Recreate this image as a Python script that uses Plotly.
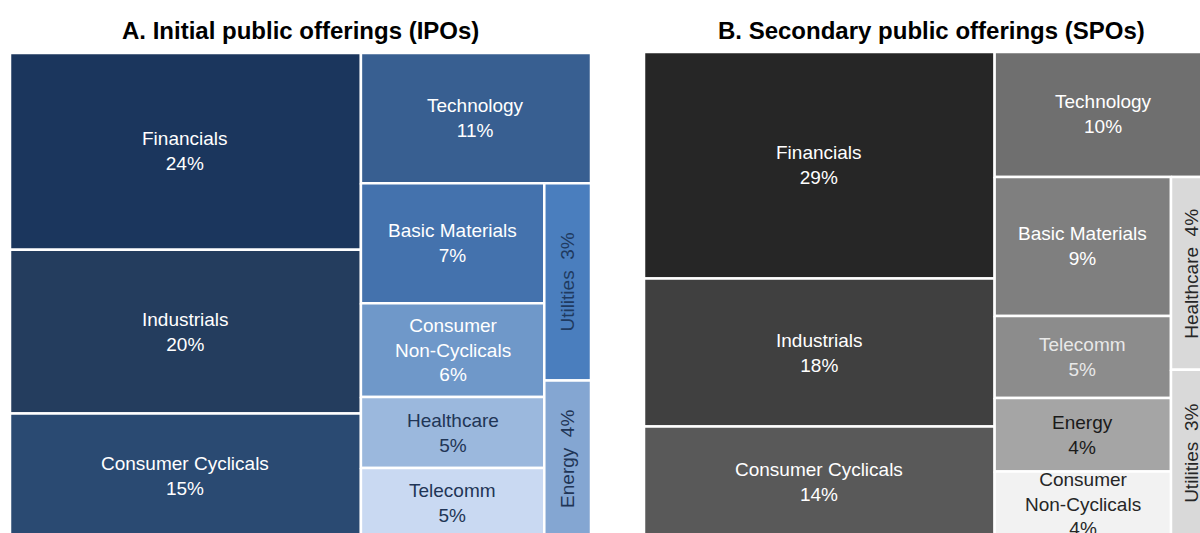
import plotly.graph_objects as go

# ---------------- data ----------------
ipo_sectors = ["Financials", "Industrials", "Consumer Cyclicals", "Technology",
               "Basic Materials", "Consumer<br>Non-Cyclicals", "Healthcare",
               "Telecomm", "Utilities", "Energy"]
ipo_pct = [24, 20, 15, 11, 7, 6, 5, 5, 3, 4]                 # shown labels
ipo_size = [24.5, 20.4, 15.5, 10.64, 7.80, 6.10, 4.63, 4.55, 3.27, 2.61]

spo_sectors = ["Financials", "Industrials", "Consumer Cyclicals", "Technology",
               "Basic Materials", "Telecomm", "Energy", "Consumer<br>Non-Cyclicals",
               "Healthcare", "Utilities"]
spo_pct = [29, 18, 14, 10, 9, 5, 4, 4, 4, 3]
spo_size = [28.83, 18.84, 14.06, 9.86, 8.90, 5.25, 4.71, 4.19, 2.87, 2.49]

# ---------------- styles ----------------
ipo_fill = ["#1b365d", "#243d5e", "#2a4a72", "#385f91", "#4472ad",
            "#6f98c9", "#9bb8dd", "#c9d9f2", "#4a7ebe", "#84a6d2"]
ipo_txt = ["#ffffff", "#ffffff", "#ffffff", "#ffffff", "#ffffff",
           "#ffffff", "#1f3556", "#1f3556", "#1f3a60", "#1f3556"]
ipo_rot = [False] * 8 + [True, True]

spo_fill = ["#262626", "#404040", "#595959", "#6f6f6f", "#7f7f7f",
            "#8c8c8c", "#a5a5a5", "#f2f2f2", "#d9d9d9", "#d9d9d9"]
spo_txt = ["#ffffff", "#ffffff", "#ffffff", "#ffffff", "#ffffff",
           "#e8e8e8", "#1a1a1a", "#262626", "#262626", "#262626"]
spo_rot = [False] * 8 + [True, True]

# nested grouping (slice-and-dice): depth even -> split along x, odd -> along y
structure = [[0, 1, 2], [3, [[4, 5, 6, 7], [8, 9]]]]

FONT = "Liberation Sans, Arial, sans-serif"
LABEL_SIZE = 19


def node_sum(node, sizes):
    if isinstance(node, int):
        return sizes[node]
    return sum(node_sum(c, sizes) for c in node)


def slice_dice(node, sizes, x0, y0, x1, y1, depth, out):
    if isinstance(node, int):
        out[node] = (x0, y0, x1, y1)
        return
    total = node_sum(node, sizes)
    pos = x0 if depth % 2 == 0 else y0
    for c in node:
        frac = node_sum(c, sizes) / total
        if depth % 2 == 0:
            w = (x1 - x0) * frac
            slice_dice(c, sizes, pos, y0, pos + w, y1, depth + 1, out)
            pos += w
        else:
            h = (y1 - y0) * frac
            slice_dice(c, sizes, x0, pos, x1, pos + h, depth + 1, out)
            pos += h


fig = go.Figure()
annotations = []


def add_panel(sectors, pct, sizes, fills, txts, rot, xa, ya):
    rects = {}
    slice_dice(structure, sizes, 0.0, 0.0, 1.0, 1.0, 0, rects)
    for i, name in enumerate(sectors):
        x0, y0, x1, y1 = rects[i]
        plain = name.replace("<br>", " ")
        fig.add_trace(go.Scatter(
            x=[x0, x1, x1, x0, x0], y=[y0, y0, y1, y1, y0],
            mode="lines", fill="toself", fillcolor=fills[i],
            line=dict(color="white", width=2.5),
            hoverinfo="text", hovertext=f"{plain}: {pct[i]}%",
            showlegend=False, xaxis=xa, yaxis=ya))
        cx, cy = (x0 + x1) / 2, (y0 + y1) / 2
        if rot[i]:
            text = f"{name}&nbsp;&nbsp;{pct[i]}%"
            angle = -90
        else:
            text = f"{name}<br>{pct[i]}%"
            angle = 0
        annotations.append(dict(
            x=cx, y=cy, xref=xa, yref=ya, text=text, textangle=angle,
            showarrow=False, xanchor="center", yanchor="middle",
            font=dict(family=FONT, size=LABEL_SIZE, color=txts[i])))


add_panel(ipo_sectors, ipo_pct, ipo_size, ipo_fill, ipo_txt, ipo_rot, "x", "y")
add_panel(spo_sectors, spo_pct, spo_size, spo_fill, spo_txt, spo_rot, "x2", "y2")

W, H = 1200, 533
# panel A: tile area 10..591 px wide, 53..538 px tall (cropped at bottom)
# panel B: tile area 644..1212 px wide, 52..537 px tall (cropped at right/bottom)
axA = dict(visible=False, fixedrange=True)
layout_axes = dict(
    xaxis=dict(domain=[10 / W, 591 / W], range=[0, 1], **axA),
    yaxis=dict(domain=[0, 1 - 53 / H], range=[(H - 53) / 485, 0], **axA),
    xaxis2=dict(domain=[644 / W, 1], range=[0, (W - 644) / 568], anchor="y2", **axA),
    yaxis2=dict(domain=[0, 1 - 52 / H], range=[(H - 52) / 485, 0], anchor="x2", **axA),
)

title_font = dict(family="Liberation Sans, Arial, sans-serif", size=24, color="#000000")
annotations.append(dict(x=300.5 / W, y=1 - 30 / H, xref="paper", yref="paper",
                        text="<b>A. Initial public offerings (IPOs)</b>", showarrow=False,
                        xanchor="center", yanchor="middle", font=title_font))
annotations.append(dict(x=931 / W, y=1 - 30 / H, xref="paper", yref="paper",
                        text="<b>B. Secondary public offerings (SPOs)</b>", showarrow=False,
                        xanchor="center", yanchor="middle", font=title_font))

fig.update_layout(
    width=W, height=H,
    margin=dict(l=0, r=0, t=0, b=0),
    paper_bgcolor="white", plot_bgcolor="white",
    annotations=annotations,
    **layout_axes,
)

fig.write_html(
    "out.html",
    config={"displayModeBar": False},
    post_script="document.body.style.margin='0px';document.body.style.overflow='hidden';",
)
